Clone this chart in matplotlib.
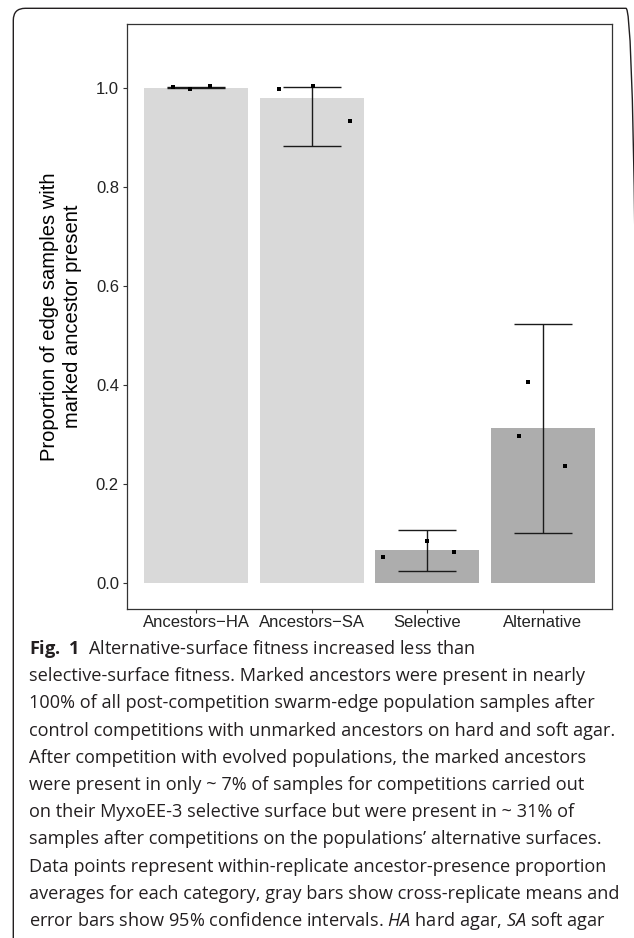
import matplotlib
matplotlib.use('Agg')
import matplotlib.pyplot as plt
from matplotlib.patches import FancyBboxPatch
from matplotlib.transforms import IdentityTransform

# ---------------- data ----------------
categories = ['Ancestors\u2212HA', 'Ancestors\u2212SA', 'Selective', 'Alternative']
means = [1.000, 0.979, 0.066, 0.312]
ci_low = [0.9993, 0.883, 0.024, 0.100]
ci_high = [1.0007, 1.001, 0.1065, 0.523]
bar_colors = ['#D9D9D9', '#D9D9D9', '#ADADAD', '#ADADAD']
rep_values = [
    [1.001, 0.997, 1.004],
    [0.998, 1.003, 0.933],
    [0.0525, 0.085, 0.0626],
    [0.296, 0.4055, 0.236],
]
rep_jitter = [
    [-0.20, -0.056, 0.12],
    [-0.284, 0.015, 0.33],
    [-0.384, -0.006, 0.23],
    [-0.205, -0.127, 0.193],
]
yticks = [0.0, 0.2, 0.4, 0.6, 0.8, 1.0]
ytick_labels = ['0.0', '0.2', '0.4', '0.6', '0.8', '1.0']
ylabel = 'Proportion of edge samples with\nmarked ancestor present'
caption_lines = [
    r'$\mathbf{Fig.\ 1}$  Alternative-surface fitness increased less than',
    'selective-surface fitness. Marked ancestors were present in nearly',
    '100% of all post-competition swarm-edge population samples after',
    'control competitions with unmarked ancestors on hard and soft agar.',
    'After competition with evolved populations, the marked ancestors',
    'were present in only ~ 7% of samples for competitions carried out',
    'on their MyxoEE-3 selective surface but were present in ~ 31% of',
    'samples after competitions on the populations\u2019 alternative surfaces.',
    'Data points represent within-replicate ancestor-presence proportion',
    'averages for each category, gray bars show cross-replicate means and',
    r'error bars show 95% confidence intervals. $\mathit{HA}$ hard agar, $\mathit{SA}$ soft agar',
]

# ---------------- style ----------------
plt.rcParams['font.family'] = ['Liberation Sans', 'DejaVu Sans']
plt.rcParams['mathtext.fontset'] = 'custom'
plt.rcParams['mathtext.rm'] = 'Open Sans'
plt.rcParams['mathtext.it'] = 'Open Sans:italic'
plt.rcParams['mathtext.bf'] = 'Open Sans:bold'

W, H = 634, 938
fig = plt.figure(figsize=(W / 100, H / 100), dpi=100)
fig.patch.set_facecolor('white')

# outer rounded frame (pixel coordinates)
box = FancyBboxPatch((13.3, -12), 638 - 13.3, (H - 8.3) + 12,
                     boxstyle='round,pad=0,rounding_size=12',
                     transform=IdentityTransform(), fill=False,
                     ec='#231F20', lw=1.0)
fig.add_artist(box)

# ---------------- plot panel ----------------
left, right, top, bottom = 126.7, 612.3, 24.3, 609.0
ax = fig.add_axes([left / W, 1 - bottom / H, (right - left) / W, (bottom - top) / H])
xs = list(range(1, len(categories) + 1))

ax.bar(xs, means, width=0.9, color=bar_colors, zorder=1)
ax.vlines(xs, ci_low, ci_high, color='#1a1a1a', lw=1.0, zorder=2)
ax.hlines(ci_low, [x - 0.25 for x in xs], [x + 0.25 for x in xs], color='#1a1a1a', lw=1.0, zorder=2)
ax.hlines(ci_high, [x - 0.25 for x in xs], [x + 0.25 for x in xs], color='#1a1a1a', lw=1.0, zorder=2)
for x, vals, jit in zip(xs, rep_values, rep_jitter):
    ax.plot([x + j for j in jit], vals, 's', ms=3.5, color='black', mew=0, zorder=3)

ax.set_xlim(0.4, 4.6)
ax.set_ylim(-0.053, 1.128)
ax.set_xticks(xs)
ax.set_xticklabels(categories)
ax.set_yticks(yticks)
ax.set_yticklabels(ytick_labels)
for s in ax.spines.values():
    s.set_color('#333333')
    s.set_linewidth(0.9)
ax.tick_params(length=2.6, width=0.8, color='#333333', labelsize=12,
               labelcolor='#222222')
ax.tick_params(axis='y', pad=3.0)
ax.tick_params(axis='x', pad=2.0)

fig.text(61 / W, 1 - (top + bottom) / 2 / H, ylabel, rotation=90, ha='center', va='center',
         fontsize=14.5, linespacing=1.2, color='black', multialignment='center')

# ---------------- caption ----------------
renderer = fig.canvas.get_renderer()
probe = fig.text(0, 0, caption_lines[3], fontsize=10, family='Open Sans')
pw = probe.get_window_extent(renderer).width
probe.remove()
cap_fs = 10 * 588 / pw

for i, line in enumerate(caption_lines):
    fig.text(29 / W, 1 - (654 + 27.2 * i) / H, line, fontsize=cap_fs, family='Open Sans',
             ha='left', va='baseline', color='#231F20')

fig.savefig('out.png', dpi=100)
